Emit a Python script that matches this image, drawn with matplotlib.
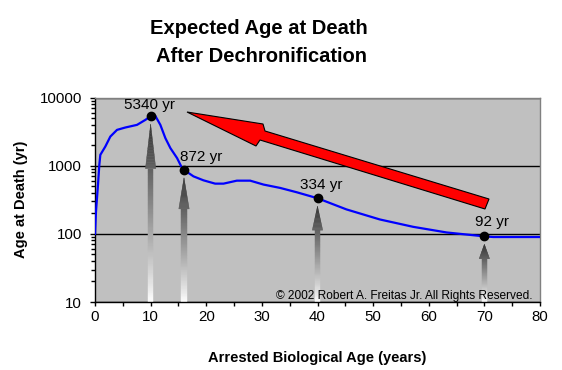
import numpy as np
import matplotlib
matplotlib.use('Agg')
import matplotlib.pyplot as plt
from matplotlib.collections import PolyCollection
from matplotlib.patches import Polygon
from matplotlib.transforms import blended_transform_factory, Affine2D
from matplotlib.ticker import LogLocator, NullFormatter, MultipleLocator

plt.rcParams['font.family'] = ['Liberation Sans', 'DejaVu Sans']

# ---- data ----
curve_x = [0, 0.18, 0.54, 0.78, 0.96, 1.86, 2.76, 3.96, 5.45, 7.55, 9.05, 10,
           10.85, 11.75, 12.65, 13.55, 14.75, 15.5, 16, 17.7, 19.5, 21.6, 23.1,
           25.5, 27.9, 30.3, 33.3, 36.3, 40, 45.2, 51.2, 57.2, 63.2, 70, 71.6, 80]
curve_y = [100, 215, 530, 1040, 1450, 1920, 2690, 3370, 3650, 3990, 4720, 5340,
           5400, 3990, 2550, 1820, 1300, 980, 872, 700, 612, 547, 547,
           605, 605, 530, 473, 408, 334, 229, 163, 127, 105, 92, 90, 90]
point_x = [10, 16, 40, 70]
point_y = [5340, 872, 334, 92]
point_labels = ['5340 yr', '872 yr', '334 yr', '92 yr']
x_ticks = [0, 10, 20, 30, 40, 50, 60, 70, 80]
y_ticks = [10, 100, 1000, 10000]

W, H = 562, 370
fig = plt.figure(figsize=(W / 100, H / 100), dpi=100)
fig.patch.set_facecolor('white')
px = Affine2D().scale(1 / W, -1 / H).translate(0, 1) + fig.transFigure

L, R, T, B = 95, 540, 97.7, 302
ax = fig.add_axes([L / W, (H - B) / H, (R - L) / W, (B - T) / H])
ax.set_facecolor('#c0c0c0')
ax.set_yscale('log')
ax.set_xlim(0, 80)
ax.set_ylim(10, 10000)
ax.set_axisbelow(True)

ax.set_xticks(x_ticks, [str(v) for v in x_ticks])
ax.xaxis.set_minor_locator(MultipleLocator(5))
ax.set_yticks(y_ticks, [str(v) for v in y_ticks])
ax.yaxis.set_minor_locator(LogLocator(base=10, subs=np.arange(2, 10)))
ax.yaxis.set_minor_formatter(NullFormatter())
ax.tick_params(axis='both', which='both', direction='out', color='black',
               width=1, labelsize=10.8, labelcolor='black')
ax.tick_params(axis='y', which='major', length=3.6, pad=5.8)
ax.tick_params(axis='y', which='minor', length=2.6)
ax.tick_params(axis='x', which='both', length=3, pad=2.5)
ax.yaxis.grid(True, which='major', color='black', lw=1)

for s in ['left', 'bottom']:
    ax.spines[s].set_color('black')
    ax.spines[s].set_linewidth(1)
for s in ['top', 'right']:
    ax.spines[s].set_color('#808080')
    ax.spines[s].set_linewidth(1)

# ---- gradient arrows under the points ----
blend = blended_transform_factory(ax.transData, ax.transAxes)
gap = 8 / (B - T)
shaft_hw = 2.6 / ((R - L) / 80)
head_hw = 5.2 / ((R - L) / 80)
polys, cols = [], []
for xv, yv in zip(point_x, point_y):
    tip = (np.log10(yv) - 1) / 3 - gap
    base = tip * 0.75
    def hw(y):
        if y <= base:
            return shaft_hw
        return head_hw * (tip - y) / (tip - base)
    edges = np.concatenate([np.linspace(0, base, 60), np.linspace(base, tip, 30)[1:]])
    for i in range(len(edges) - 1):
        y0, y1 = edges[i], edges[i + 1]
        w0 = shaft_hw if (i < 59) else hw(y0 + 1e-9)
        w1 = hw(y1) if y1 > base else shaft_hw
        polys.append([(xv - w0, y0), (xv + w0, y0), (xv + w1, y1), (xv - w1, y1)])
        t = 0.5 * (y0 + y1) / tip
        g = 1.0 - 0.8 * t ** 0.9
        cols.append((g, g, g))
pc = PolyCollection(polys, facecolors=cols, edgecolors=cols, linewidths=0.3,
                    transform=blend, zorder=2)
ax.add_collection(pc)

# ---- red arrow decoration (figure pixel coords) ----
red = [(187, 112), (263, 124), (265, 131), (489, 199), (485, 209),
       (260, 140), (256, 146)]
ax.add_patch(Polygon(red, closed=True, facecolor='#ff0000', edgecolor='black',
                     linewidth=0.8, transform=px, zorder=3, clip_on=False))

# ---- curve & points ----
ax.plot(curve_x, curve_y, color='#0000ff', lw=1.6, zorder=4)
ax.plot(point_x, point_y, 'o', color='black', ms=6, zorder=5)
offsets = [(-1, 11), (17, 13), (4, 13), (8, 14)]
for xv, yv, lab, (dx, dy) in zip(point_x, point_y, point_labels, offsets):
    ax.annotate(lab, (xv, yv), xytext=(dx * 0.72, dy * 0.72),
                textcoords='offset points', ha='center', va='center',
                fontsize=11, zorder=6)

# ---- texts ----
fig.text(258.5 / W, 1 - 34.3 / H, 'Expected Age at Death', ha='center',
         va='baseline', fontsize=14.5, fontweight='bold')
fig.text(262 / W, 1 - 61.7 / H, 'After Dechronification', ha='center',
         va='baseline', fontsize=14.5, fontweight='bold')
fig.text(317 / W, 1 - 358 / H, 'Arrested Biological Age (years)', ha='center',
         va='center', fontsize=10.5, fontweight='bold')
fig.text(21 / W, 1 - 199 / H, 'Age at Death (yr)', ha='center', va='center',
         rotation=90, fontsize=10.5, fontweight='bold')
fig.text(532 / W, 1 - 299 / H, '\u00a9 2002 Robert A. Freitas Jr. All Rights Reserved.',
         ha='right', va='baseline', fontsize=8.6)

fig.savefig('out.png', dpi=100)
